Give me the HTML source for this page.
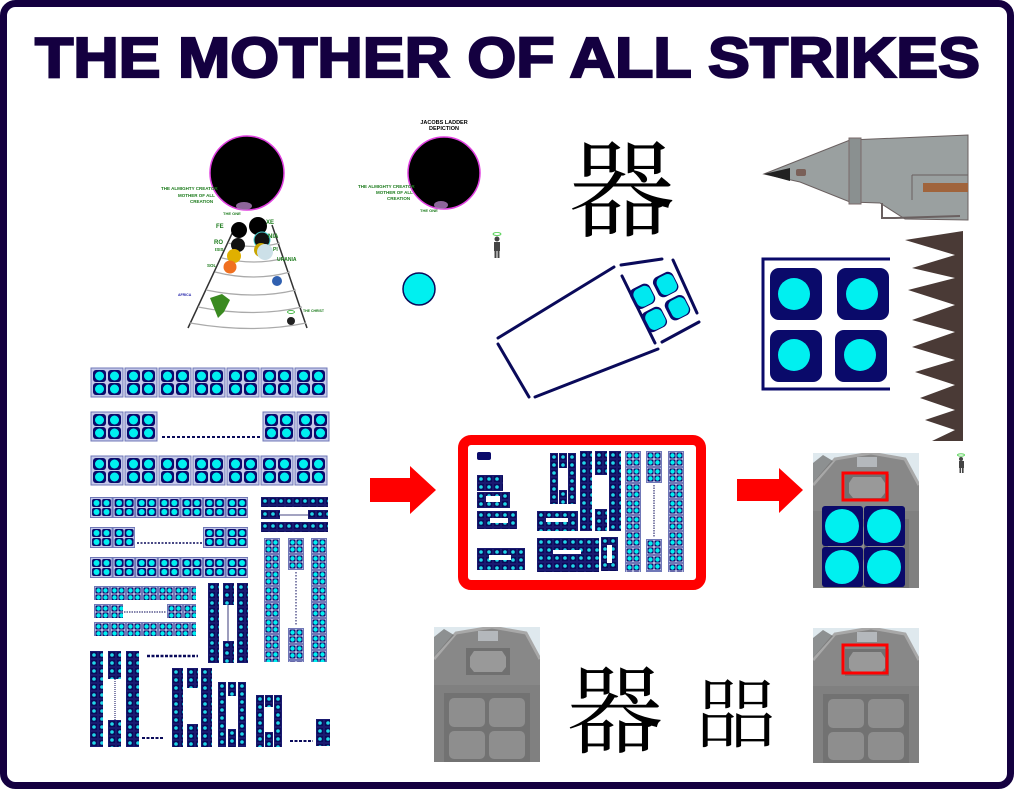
<!DOCTYPE html>
<html><head><meta charset="utf-8"><style>
html,body{margin:0;padding:0;background:#fff;}
svg{display:block;}
</style></head><body>
<svg width="1014" height="789" viewBox="0 0 1014 789" xmlns="http://www.w3.org/2000/svg">
<defs>
<pattern id="pA" x="0" y="0" width="34" height="31" patternUnits="userSpaceOnUse">
<rect x="1" y="1" width="32" height="29" fill="#c4c8e8" stroke="#7078b8" stroke-width="1"/>
<rect x="3" y="3" width="13" height="12" rx="3" fill="#0a0a6a"/><rect x="18" y="3" width="13" height="12" rx="3" fill="#0a0a6a"/>
<rect x="3" y="16" width="13" height="12" rx="3" fill="#0a0a6a"/><rect x="18" y="16" width="13" height="12" rx="3" fill="#0a0a6a"/>
<circle cx="9.5" cy="9" r="4.5" fill="#00f0f0"/><circle cx="24.5" cy="9" r="4.5" fill="#00f0f0"/>
<circle cx="9.5" cy="22" r="4.5" fill="#00f0f0"/><circle cx="24.5" cy="22" r="4.5" fill="#00f0f0"/>
</pattern>
<pattern id="pB" x="0" y="0" width="22.6" height="21" patternUnits="userSpaceOnUse">
<rect x="0.5" y="0.5" width="21.6" height="20" fill="#c4c8e8" stroke="#7078b8" stroke-width="1"/>
<rect x="2" y="2" width="9" height="8" rx="2" fill="#0a0a6a"/><rect x="12" y="2" width="9" height="8" rx="2" fill="#0a0a6a"/>
<rect x="2" y="11" width="9" height="8" rx="2" fill="#0a0a6a"/><rect x="12" y="11" width="9" height="8" rx="2" fill="#0a0a6a"/>
<circle cx="6.5" cy="6" r="3" fill="#00f0f0"/><circle cx="16.5" cy="6" r="3" fill="#00f0f0"/>
<circle cx="6.5" cy="15" r="3" fill="#00f0f0"/><circle cx="16.5" cy="15" r="3" fill="#00f0f0"/>
</pattern>
<pattern id="pC" x="0" y="0" width="16" height="16" patternUnits="userSpaceOnUse">
<rect x="0.5" y="0.5" width="15" height="15" fill="#c4c8e8" stroke="#7078b8" stroke-width="1"/>
<rect x="1.5" y="1.5" width="6" height="6" rx="1" fill="#0a0a6a"/><rect x="8.5" y="1.5" width="6" height="6" rx="1" fill="#0a0a6a"/>
<rect x="1.5" y="8.5" width="6" height="6" rx="1" fill="#0a0a6a"/><rect x="8.5" y="8.5" width="6" height="6" rx="1" fill="#0a0a6a"/>
<circle cx="4.5" cy="4.5" r="2.2" fill="#00f0f0"/><circle cx="11.5" cy="4.5" r="2.2" fill="#00f0f0"/>
<circle cx="4.5" cy="11.5" r="2.2" fill="#00f0f0"/><circle cx="11.5" cy="11.5" r="2.2" fill="#00f0f0"/>
</pattern>
<pattern id="pD" x="0" y="0" width="8" height="8" patternUnits="userSpaceOnUse">
<rect x="0" y="0" width="8" height="8" fill="#1a1a70"/>
<rect x="1" y="1" width="6" height="6" fill="#0a0a5a"/>
<circle cx="4" cy="4" r="1.8" fill="#20d8e8"/>
</pattern>
<symbol id="barn" viewBox="0 0 106 135">
<rect width="106" height="135" fill="#dfe9ee"/>
<polygon points="0,32 22,6 58,0 92,6 106,32 106,135 0,135" fill="#888888"/>
<polyline points="0,32 22,6 58,0 92,6 106,32" fill="none" stroke="#a8a8a8" stroke-width="3"/>
<polygon points="0,10 10,2 20,8 0,30" fill="#6a6a6a" opacity="0.7"/>
<rect x="44" y="4" width="20" height="10" fill="#b4b8bc"/>
<rect x="32" y="21" width="44" height="27" fill="#707070"/>
<polygon points="40,24 68,24 72,30 72,40 68,45 40,45 36,40 36,30" fill="#999"/>
<rect x="0" y="58" width="106" height="77" fill="#808080"/>
<rect x="10" y="66" width="86" height="69" fill="#727272"/>
<rect x="15" y="71" width="36" height="29" rx="5" fill="#8e8e8e"/><rect x="55" y="71" width="36" height="29" rx="5" fill="#8e8e8e"/>
<rect x="15" y="104" width="36" height="28" rx="5" fill="#8e8e8e"/><rect x="55" y="104" width="36" height="28" rx="5" fill="#8e8e8e"/>
</symbol>
</defs>

<rect x="3.5" y="3.5" width="1007" height="782" rx="12" fill="#fff" stroke="#140040" stroke-width="7"/>

<text x="35" y="77" font-family="Liberation Sans, sans-serif" font-weight="bold" font-size="57" fill="#140040" stroke="#140040" stroke-width="2.2" textLength="945" lengthAdjust="spacingAndGlyphs">THE MOTHER OF ALL STRIKES</text>

<!-- left ladder picture -->
<g font-family="Liberation Sans, sans-serif" font-weight="bold">
<circle cx="247" cy="173" r="37" fill="#000" stroke="#e040e0" stroke-width="1.5"/>
<ellipse cx="244" cy="206" rx="8" ry="4" fill="#b080c0" opacity="0.8"/>
<text x="161" y="190" font-size="4.5" fill="#1a7a1a">THE ALMIGHTY CREATOR</text>
<text x="178" y="197" font-size="4.5" fill="#1a7a1a">MOTHER OF ALL</text>
<text x="190" y="203" font-size="4.5" fill="#1a7a1a">CREATION</text>
<text x="223" y="215" font-size="4" fill="#1a7a1a">THE ONE</text>
<line x1="188" y1="328" x2="236" y2="225" stroke="#333" stroke-width="1.5"/>
<line x1="307" y1="328" x2="272" y2="225" stroke="#333" stroke-width="1.5"/>
<path d="M228 243 Q254 250 280 243 M222 258 Q254 266 285 258 M215 272 Q254 282 290 272 M206 290 Q254 300 296 290 M198 307 Q254 318 302 307 M190 323 Q254 334 306 323" fill="none" stroke="#aaa" stroke-width="1.2"/>
<circle cx="239" cy="230" r="8" fill="#000"/><circle cx="258" cy="226" r="9" fill="#000"/>
<circle cx="262" cy="240" r="8" fill="#111" stroke="#4cc" stroke-width="1"/><circle cx="238" cy="245" r="7" fill="#111"/>
<circle cx="261" cy="250" r="7" fill="#c9a500"/><circle cx="234" cy="256" r="7" fill="#e0b000"/>
<circle cx="265" cy="252" r="8" fill="#cce0e8"/>
<circle cx="230" cy="267" r="6.5" fill="#f07020"/>
<circle cx="277" cy="281" r="5" fill="#3060b0"/>
<path d="M210 298 L222 294 L230 300 L224 312 L218 318 L214 308 Z" fill="#3a8a20"/>
<circle cx="291" cy="321" r="4" fill="#222"/><ellipse cx="291" cy="312" rx="3.5" ry="1.5" fill="none" stroke="#2a2" stroke-width="0.8"/>
<text x="216" y="228" font-size="6" fill="#1a7a1a">FE</text><text x="266" y="224" font-size="6" fill="#1a7a1a">XE</text>
<text x="268" y="238" font-size="6" fill="#1a7a1a">NIA</text><text x="214" y="244" font-size="6" fill="#1a7a1a">RO</text>
<text x="273" y="251" font-size="5" fill="#1a7a1a">PI</text><text x="215" y="251" font-size="4.5" fill="#1a7a1a">ISIS</text>
<text x="277" y="261" font-size="5" fill="#1a7a1a">URANIA</text><text x="207" y="267" font-size="4.5" fill="#1a7a1a">SOL</text>
<text x="178" y="296" font-size="3.5" fill="#22a">AFRICA</text><text x="303" y="312" font-size="3.5" fill="#1a7a1a">THE CHRIST</text>
</g>

<g font-family="Liberation Sans, sans-serif" font-weight="bold">
<text x="444" y="124" font-size="5.5" fill="#000" text-anchor="middle">JACOBS LADDER</text>
<text x="444" y="130" font-size="5.5" fill="#000" text-anchor="middle">DEPICTION</text>
<circle cx="444" cy="173" r="36" fill="#000" stroke="#e040e0" stroke-width="1.5"/>
<ellipse cx="441" cy="205" rx="7" ry="4" fill="#b080c0" opacity="0.8"/>
<text x="358" y="188" font-size="4.5" fill="#1a7a1a">THE ALMIGHTY CREATOR</text>
<text x="376" y="194" font-size="4.5" fill="#1a7a1a">MOTHER OF ALL</text>
<text x="387" y="200" font-size="4.5" fill="#1a7a1a">CREATION</text>
<text x="420" y="212" font-size="4" fill="#1a7a1a">THE ONE</text>
</g>
<circle cx="419" cy="289" r="16" fill="#00f0f0" stroke="#0a0a5a" stroke-width="1.5"/>
<g fill="#444"><circle cx="497" cy="239" r="2.5"/><rect x="494" y="242" width="6" height="9"/><rect x="494.5" y="250" width="2" height="8"/><rect x="497.5" y="250" width="2" height="8"/></g>
<ellipse cx="497" cy="234" rx="4" ry="1.5" fill="none" stroke="#4c4" stroke-width="0.8"/>

<text x="622" y="228" font-family="Noto Serif CJK SC, serif" font-size="106" text-anchor="middle" fill="#000">器</text>

<g stroke="#0a0a5a" stroke-width="3" fill="none" stroke-linecap="round">
<line x1="498" y1="338" x2="614" y2="267"/>
<line x1="621" y1="265" x2="662" y2="259"/>
<line x1="673" y1="260" x2="697" y2="313"/>
<line x1="662" y1="342" x2="699" y2="322"/>
<line x1="535" y1="397" x2="658" y2="349"/>
<line x1="498" y1="344" x2="529" y2="397"/>
<line x1="622" y1="276" x2="655" y2="343"/>
</g>
<g transform="rotate(-27 660 302)">
<rect x="636" y="278" width="22" height="22" rx="6" fill="#0a0a6a"/><rect x="662" y="278" width="22" height="22" rx="6" fill="#0a0a6a"/>
<rect x="636" y="304" width="22" height="22" rx="6" fill="#0a0a6a"/><rect x="662" y="304" width="22" height="22" rx="6" fill="#0a0a6a"/>
<rect x="639" y="280" width="18" height="19" rx="6" fill="#00e8f0"/><rect x="665" y="280" width="18" height="19" rx="6" fill="#00e8f0"/>
<rect x="639" y="306" width="18" height="19" rx="6" fill="#00e8f0"/><rect x="665" y="306" width="18" height="19" rx="6" fill="#00e8f0"/>
</g>

<polygon points="764,174 850,140 968,135 968,220 905,219 880,203 850,202 800,182" fill="#9aa0a0" stroke="#6a6060" stroke-width="1"/>
<polygon points="764,174 790,168 790,181" fill="#222"/>
<rect x="849" y="138" width="12" height="66" fill="#8a9090" stroke="#7a6a6a"/>
<rect x="796" y="169" width="10" height="7" rx="2" fill="#7a6058"/>
<polyline points="912,175 968,175" stroke="#6a6060" fill="none"/>
<polyline points="912,175 912,200" stroke="#6a6060" fill="none"/>
<rect x="923" y="183" width="45" height="9" fill="#a0643c"/>
<polyline points="882,203 882,218 895,218 960,216" stroke="#6a6060" fill="none" stroke-width="2"/>

<path d="M963 231 L963 441 L932 441 L955 430 L925 420 L955 410 L920 398 L955 385 L915 372 L955 360 L912 347 L955 332 L912 320 L955 305 L908 290 L955 278 L912 268 L955 255 L905 240 Z" fill="#4a3a36"/>
<g fill="#444"><circle cx="961" cy="459" r="2"/><rect x="959" y="461" width="5" height="7"/><rect x="959.5" y="467" width="1.6" height="6"/><rect x="962" y="467" width="1.6" height="6"/></g>
<ellipse cx="961" cy="455" rx="3.5" ry="1.2" fill="none" stroke="#4c4" stroke-width="0.8"/>

<polyline points="890,259 763,259 763,389 890,389" fill="none" stroke="#0a0a6a" stroke-width="3"/>
<rect x="770" y="268" width="52" height="52" rx="9" fill="#0a0a6a"/><rect x="837" y="268" width="52" height="52" rx="9" fill="#0a0a6a"/>
<rect x="770" y="330" width="52" height="52" rx="9" fill="#0a0a6a"/><rect x="835" y="330" width="52" height="52" rx="9" fill="#0a0a6a"/>
<circle cx="794" cy="294" r="16" fill="#00f0f0"/><circle cx="862" cy="294" r="16" fill="#00f0f0"/>
<circle cx="794" cy="355" r="16" fill="#00f0f0"/><circle cx="860" cy="355" r="16" fill="#00f0f0"/>

<!-- left array (each rect translated so pattern aligns) -->
<rect transform="translate(90,367)" width="238" height="31" fill="url(#pA)"/>
<rect transform="translate(90,411)" width="68" height="31" fill="url(#pA)"/>
<rect transform="translate(262,411)" width="68" height="31" fill="url(#pA)"/>
<line x1="162" y1="437" x2="260" y2="437" stroke="#0a0a5a" stroke-width="2" stroke-dasharray="3,2"/>
<rect transform="translate(90,455)" width="238" height="31" fill="url(#pA)"/>
<rect transform="translate(90,497)" width="158" height="21" fill="url(#pB)"/>
<rect transform="translate(90,527)" width="45" height="21" fill="url(#pB)"/>
<rect transform="translate(203,527)" width="45" height="21" fill="url(#pB)"/>
<line x1="137" y1="543" x2="202" y2="543" stroke="#0a0a5a" stroke-width="1.5" stroke-dasharray="2,1.5"/>
<rect transform="translate(90,557)" width="158" height="21" fill="url(#pB)"/>
<rect transform="translate(261,497)" width="67" height="10" fill="url(#pD)"/>
<rect transform="translate(261,510)" width="19" height="9" fill="url(#pD)"/><rect transform="translate(308,510)" width="20" height="9" fill="url(#pD)"/>
<line x1="280" y1="515" x2="308" y2="515" stroke="#0a0a5a" stroke-width="0.8"/>
<rect transform="translate(261,522)" width="67" height="10" fill="url(#pD)"/>
<rect transform="translate(264,538)" width="16" height="124" fill="url(#pC)"/>
<rect transform="translate(288,538)" width="16" height="32" fill="url(#pC)"/><rect transform="translate(288,628)" width="16" height="34" fill="url(#pC)"/>
<line x1="296" y1="572" x2="296" y2="626" stroke="#0a0a5a" stroke-dasharray="1.5,1.5"/>
<rect transform="translate(311,538)" width="16" height="124" fill="url(#pC)"/>
<rect transform="translate(94,586)" width="102" height="14" fill="url(#pC)"/>
<rect transform="translate(94,604)" width="29" height="14" fill="url(#pC)"/><rect transform="translate(167,604)" width="29" height="14" fill="url(#pC)"/>
<line x1="124" y1="612" x2="166" y2="612" stroke="#0a0a5a" stroke-dasharray="1.5,1"/>
<rect transform="translate(94,622)" width="102" height="14" fill="url(#pC)"/>
<rect transform="translate(208,583)" width="11" height="80" fill="url(#pD)"/>
<rect transform="translate(223,583)" width="11" height="22" fill="url(#pD)"/><rect transform="translate(223,641)" width="11" height="22" fill="url(#pD)"/>
<line x1="228" y1="605" x2="228" y2="641" stroke="#0a0a5a" stroke-width="0.8"/>
<rect transform="translate(237,583)" width="11" height="80" fill="url(#pD)"/>
<line x1="147" y1="656" x2="198" y2="656" stroke="#0a0a5a" stroke-width="2.5" stroke-dasharray="3,1.5"/>
<rect transform="translate(90,651)" width="13" height="96" fill="url(#pD)"/>
<rect transform="translate(108,651)" width="13" height="28" fill="url(#pD)"/><rect transform="translate(108,720)" width="13" height="27" fill="url(#pD)"/>
<line x1="115" y1="679" x2="115" y2="720" stroke="#0a0a5a" stroke-dasharray="1,1"/>
<rect transform="translate(126,651)" width="13" height="96" fill="url(#pD)"/>
<line x1="142" y1="738" x2="163" y2="738" stroke="#0a0a5a" stroke-width="2" stroke-dasharray="3,1.5"/>
<rect transform="translate(172,668)" width="11" height="79" fill="url(#pD)"/>
<rect transform="translate(187,668)" width="11" height="20" fill="url(#pD)"/><rect transform="translate(187,724)" width="11" height="23" fill="url(#pD)"/>
<rect transform="translate(201,668)" width="11" height="79" fill="url(#pD)"/>
<rect transform="translate(218,682)" width="8" height="65" fill="url(#pD)"/><rect transform="translate(228,682)" width="8" height="14" fill="url(#pD)"/><rect transform="translate(228,729)" width="8" height="18" fill="url(#pD)"/><rect transform="translate(238,682)" width="8" height="65" fill="url(#pD)"/>
<rect transform="translate(256,695)" width="8" height="52" fill="url(#pD)"/><rect transform="translate(265,695)" width="8" height="12" fill="url(#pD)"/><rect transform="translate(265,732)" width="8" height="15" fill="url(#pD)"/><rect transform="translate(274,695)" width="8" height="52" fill="url(#pD)"/>
<line x1="290" y1="741" x2="313" y2="741" stroke="#0a0a5a" stroke-width="2" stroke-dasharray="3,1.5"/>
<rect transform="translate(316,719)" width="14" height="27" fill="url(#pD)"/>

<polygon points="370,478 410,478 410,466 436,490 410,514 410,502 370,502" fill="#ff0000"/>
<polygon points="737,479 779,479 779,468 803,490 779,513 779,501 737,501" fill="#ff0000"/>

<rect x="463" y="440" width="238" height="145" rx="8" fill="#fff" stroke="#ff0000" stroke-width="10"/>
<rect x="477" y="452" width="14" height="8" rx="2" fill="#0a0a6a"/>
<rect transform="translate(477,475)" width="26" height="16" fill="url(#pD)"/>
<rect transform="translate(477,492)" width="33" height="16" fill="url(#pD)"/>
<rect transform="translate(477,511)" width="40" height="18" fill="url(#pD)"/>
<rect x="486" y="496" width="14" height="6" fill="#fff"/><rect x="490" y="518" width="18" height="5" fill="#fff"/>
<rect transform="translate(477,548)" width="48" height="22" fill="url(#pD)"/><rect x="489" y="555" width="22" height="5" fill="#fff"/>
<rect transform="translate(537,511)" width="41" height="20" fill="url(#pD)"/><rect x="546" y="518" width="22" height="4" fill="#fff"/>
<rect transform="translate(537,538)" width="62" height="34" fill="url(#pD)"/><rect x="553" y="550" width="28" height="4" fill="#fff"/>
<rect transform="translate(601,537)" width="17" height="34" fill="url(#pD)"/><rect x="607" y="545" width="5" height="18" fill="#fff"/>
<rect transform="translate(550,453)" width="8" height="51" fill="url(#pD)"/><rect transform="translate(559,453)" width="8" height="15" fill="url(#pD)"/><rect transform="translate(559,490)" width="8" height="14" fill="url(#pD)"/><rect transform="translate(568,453)" width="8" height="51" fill="url(#pD)"/>
<rect transform="translate(580,451)" width="12" height="80" fill="url(#pD)"/>
<rect transform="translate(595,451)" width="12" height="24" fill="url(#pD)"/><rect transform="translate(595,509)" width="12" height="22" fill="url(#pD)"/>
<rect transform="translate(609,451)" width="12" height="80" fill="url(#pD)"/>
<rect transform="translate(625,451)" width="16" height="121" fill="url(#pC)"/>
<rect transform="translate(646,451)" width="16" height="32" fill="url(#pC)"/><rect transform="translate(646,539)" width="16" height="33" fill="url(#pC)"/>
<line x1="654" y1="485" x2="654" y2="537" stroke="#0a0a5a" stroke-dasharray="1.5,1"/>
<rect transform="translate(668,451)" width="16" height="121" fill="url(#pC)"/>

<use href="#barn" x="813" y="453" width="106" height="135"/>
<rect x="843" y="473" width="44" height="27" fill="none" stroke="#ff0000" stroke-width="3"/>
<rect x="822" y="506" width="41" height="40" rx="3" fill="#0a0a6a"/><rect x="864" y="506" width="41" height="40" rx="3" fill="#0a0a6a"/>
<rect x="822" y="547" width="41" height="40" rx="3" fill="#0a0a6a"/><rect x="864" y="547" width="41" height="40" rx="3" fill="#0a0a6a"/>
<circle cx="842" cy="526" r="17" fill="#00f0f0"/><circle cx="884" cy="526" r="17" fill="#00f0f0"/>
<circle cx="842" cy="567" r="17" fill="#00f0f0"/><circle cx="884" cy="567" r="17" fill="#00f0f0"/>

<use href="#barn" x="434" y="627" width="106" height="135"/>
<use href="#barn" x="813" y="628" width="106" height="135"/>
<rect x="843" y="645" width="44" height="28" fill="none" stroke="#ff0000" stroke-width="3"/>

<text x="615" y="745" font-family="Noto Serif CJK SC, serif" font-size="96" text-anchor="middle" fill="#000">器</text>
<text x="736" y="741" font-family="Noto Serif CJK SC, Noto Sans CJK SC, serif" font-size="78" text-anchor="middle" fill="#000">㗊</text>
</svg>
</body></html>
